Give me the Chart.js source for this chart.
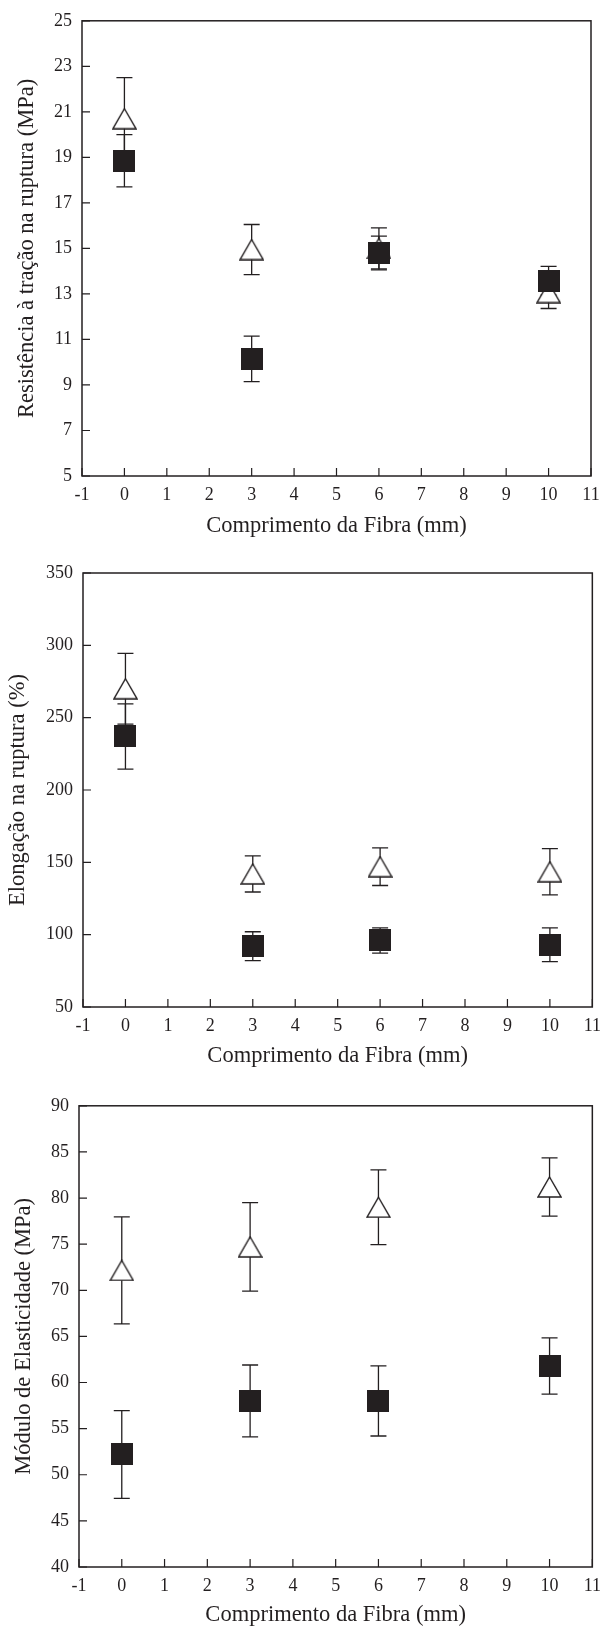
<!DOCTYPE html>
<html>
<head>
<meta charset="utf-8">
<script src="https://cdn.jsdelivr.net/npm/chart.js@4"></script>
<style>
  body { margin: 0; background: #fff; }
  canvas { position: absolute; left: 0; }
</style>
</head>
<body>
<canvas id="resistChart" width="609" height="545" style="top:0"></canvas>
<canvas id="elongChart" width="609" height="540" style="top:545px"></canvas>
<canvas id="moduloChart" width="609" height="545" style="top:1085px"></canvas>
<script>
// Fibre lengths tested (mm)
const fibraMm = [0, 3, 6, 10];

// Tensile strength at break (MPa)
const resistTri = [20.7, 14.95, 15.0, 13.06];
const resistTriErr = [1.8, 1.1, 0.9, 0.7];
const resistSq = [18.85, 10.15, 14.8, 13.58];
const resistSqErr = [1.15, 1.0, 0.74, 0.63];

// Elongation at break (%)
const elongTri = [270, 142, 147, 143.5];
const elongTriErr = [24.5, 12.5, 13, 16];
const elongSq = [237, 92, 96, 93];
const elongSqErr = [22.6, 10, 8.7, 11.7];

// Elastic modulus (MPa)
const moduloTri = [72.15, 74.7, 79.0, 81.2];
const moduloTriErr = [5.8, 4.8, 4.05, 3.15];
const moduloSq = [52.2, 58.0, 58.0, 61.8];
const moduloSqErr = [4.75, 3.9, 3.8, 3.05];

// axis ranges: [min, max, step]
const xRange = [-1, 11, 1];
const resistTicks = [5, 25, 2];
const elongTicks = [50, 350, 50];
const moduloTicks = [40, 90, 5];

const ink = '#231f20';
const serif = "'Liberation Serif', 'Times New Roman', serif";

// marker images
function squareMarker() {
  const c = document.createElement('canvas');
  c.width = 22; c.height = 22;
  const g = c.getContext('2d');
  g.fillStyle = ink;
  g.fillRect(0, 0, 22, 22);
  return c;
}
function triangleMarker() {
  const c = document.createElement('canvas');
  c.width = 25; c.height = 22;
  const g = c.getContext('2d');
  g.beginPath();
  g.moveTo(12.5, 1);
  g.lineTo(24, 21);
  g.lineTo(1, 21);
  g.closePath();
  g.fillStyle = '#fff';
  g.fill();
  g.lineWidth = 1.4;
  g.strokeStyle = ink;
  g.stroke();
  return c;
}
const sqImg = squareMarker();
const triImg = triangleMarker();

// error bars under the markers, frame and inward ticks on top
const frameAndBars = {
  id: 'frameAndBars',
  beforeDatasetsDraw(chart) {
    const { ctx, scales: { x, y } } = chart;
    const cap = 8;
    ctx.save();
    ctx.strokeStyle = ink;
    ctx.lineWidth = 1.3;
    chart.data.datasets.forEach(ds => {
      ds.data.forEach(p => {
        const px = x.getPixelForValue(p.x);
        const top = y.getPixelForValue(p.y + p.err);
        const bot = y.getPixelForValue(p.y - p.err);
        ctx.beginPath();
        ctx.moveTo(px, top); ctx.lineTo(px, bot);
        ctx.moveTo(px - cap, top); ctx.lineTo(px + cap, top);
        ctx.moveTo(px - cap, bot); ctx.lineTo(px + cap, bot);
        ctx.stroke();
      });
    });
    ctx.restore();
  },
  afterDraw(chart) {
    const { ctx, chartArea: a, scales: { x, y } } = chart;
    ctx.save();
    ctx.strokeStyle = ink;
    ctx.lineWidth = 1.2;
    ctx.beginPath();
    x.ticks.forEach(t => {
      const px = x.getPixelForValue(t.value);
      ctx.moveTo(px, a.bottom); ctx.lineTo(px, a.bottom - 8);
    });
    y.ticks.forEach(t => {
      const py = y.getPixelForValue(t.value);
      ctx.moveTo(a.left, py); ctx.lineTo(a.left + 8, py);
    });
    ctx.stroke();
    ctx.lineWidth = 1.5;
    ctx.strokeRect(a.left, a.top, a.right - a.left, a.bottom - a.top);
    ctx.restore();
  }
};

function points(vals, errs) {
  return fibraMm.map((x, i) => ({ x: x, y: vals[i], err: errs[i] }));
}

function makeChart(id, o) {
  return new Chart(document.getElementById(id), {
    type: 'scatter',
    data: {
      datasets: [
        { data: points(o.sq, o.sqErr), pointStyle: sqImg, pointRadius: 11 },
        { data: points(o.tri, o.triErr), pointStyle: triImg, pointRadius: 11 }
      ]
    },
    options: {
      responsive: false,
      animation: false,
      events: [],
      layout: { padding: { top: o.padTop, right: o.padRight, left: 0, bottom: 0 } },
      plugins: { legend: { display: false }, tooltip: { enabled: false } },
      scales: {
        x: {
          type: 'linear',
          min: xRange[0], max: xRange[1],
          afterFit: s => { s.height = o.xHeight; },
          border: { display: false },
          grid: { display: false, drawTicks: false },
          ticks: {
            stepSize: xRange[2], autoSkip: false, maxRotation: 0,
            padding: 8, color: ink, font: { family: serif, size: 18 }
          },
          title: {
            display: true, text: 'Comprimento da Fibra (mm)', color: ink,
            font: { family: serif, size: 22.5 }, padding: { top: 0, bottom: o.xTitlePad }
          }
        },
        y: {
          type: 'linear',
          min: o.yTicks[0], max: o.yTicks[1],
          afterFit: s => { s.width = o.yWidth; },
          border: { display: false },
          grid: { display: false, drawTicks: false },
          ticks: {
            stepSize: o.yTicks[2], autoSkip: false,
            padding: 10, color: ink, font: { family: serif, size: 18 }
          },
          title: {
            display: true, text: o.yTitle, color: ink,
            font: { family: serif, size: 22.5 }, padding: { top: o.yTitlePad, bottom: 0 }
          }
        }
      }
    },
    plugins: [frameAndBars]
  });
}

makeChart('resistChart', {
  tri: resistTri, triErr: resistTriErr, sq: resistSq, sqErr: resistSqErr,
  yTicks: resistTicks, yTitle: 'Resistência à tração na ruptura (MPa)',
  padTop: 12, padRight: 18, yWidth: 82, xHeight: 69, yTitlePad: 14, xTitlePad: 5
});
makeChart('elongChart', {
  tri: elongTri, triErr: elongTriErr, sq: elongSq, sqErr: elongSqErr,
  yTicks: elongTicks, yTitle: 'Elongação na ruptura (%)',
  padTop: 28, padRight: 10, yWidth: 83, xHeight: 78, yTitlePad: 5, xTitlePad: 15
});
makeChart('moduloChart', {
  tri: moduloTri, triErr: moduloTriErr, sq: moduloSq, sqErr: moduloSqErr,
  yTicks: moduloTicks, yTitle: 'Módulo de Elasticidade (MPa)',
  padTop: 14, padRight: 16, yWidth: 79, xHeight: 63, yTitlePad: 11, xTitlePad: 1
});
</script>
</body>
</html>
